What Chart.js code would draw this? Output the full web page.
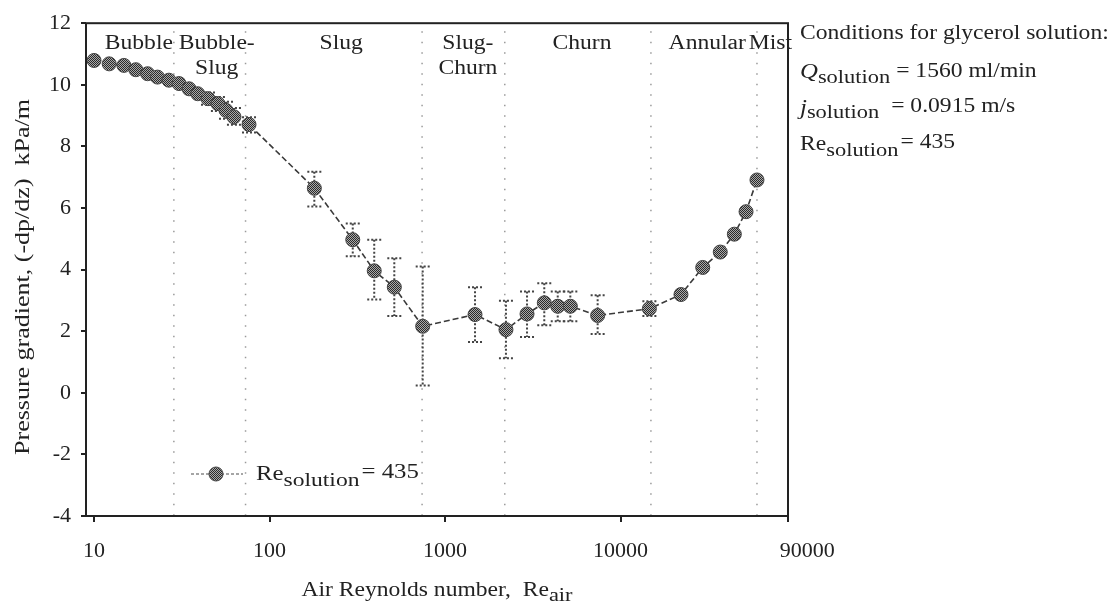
<!DOCTYPE html>
<html>
<head>
<meta charset="utf-8">
<script src="https://cdn.jsdelivr.net/npm/chart.js@4.4.1/dist/chart.umd.min.js"></script>
<style>
html, body { margin:0; padding:0; background:#fff; }
#wrap { width:1112px; height:610px; position:relative; }
</style>
</head>
<body>
<div id="wrap"><canvas id="dp-chart" width="1112" height="610"></canvas></div>
<script>
//Pressure gradient vs air Reynolds number (glycerol solution)

var reAir = [10, 12.2, 14.8, 17.3, 20.2, 23, 26.7, 30.5, 34.8, 39, 44.6, 50.8, 56.5, 62.7, 76.4,
	180, 298, 395, 514, 746, 1482, 2224, 2932, 3677, 4387, 5175, 7406, 14600,
	22100, 29400, 37000, 44500, 51900, 59900];
var dpdz = [10.79, 10.68, 10.63, 10.49, 10.36, 10.25, 10.15, 10.04, 9.87, 9.71, 9.55, 9.39, 9.17, 8.96, 8.71,
	6.64, 4.97, 3.96, 3.43, 2.16, 2.54, 2.05, 2.56, 2.92, 2.81, 2.81, 2.51, 2.73,
	3.19, 4.07, 4.57, 5.15, 5.88, 6.91];
// error bar ends (null = no bar)
var errHi = [null, null, null, null, null, null, null, null, null, null, 9.75, 9.6, 9.45, 9.25, 8.95,
	7.18, 5.5, 4.97, 4.37, 4.1, 3.43, 2.99, 3.29, 3.56, 3.29, 3.29, 3.17, 2.97,
	null, null, null, null, null, null];
var errLo = [null, null, null, null, null, null, null, null, null, null, 9.35, 9.15, 8.9, 8.7, 8.45,
	6.05, 4.43, 3.03, 2.49, 0.24, 1.65, 1.12, 1.81, 2.19, 2.32, 2.32, 1.91, 2.49,
	null, null, null, null, null, null];

var xTicks = [10, 100, 1000, 10000, 90000];
var yTicks = [-4, -2, 0, 2, 4, 6, 8, 10, 12];

// flow regime boundaries (air Re)
var regimeBounds = [28.5, 73, 740, 2190, 14900, 59900];
var regimeLabels = ['Bubble', 'Bubble-', 'Slug', 'Slug', 'Slug-', 'Churn', 'Churn', 'Annular', 'Mist'];
var regimeLabelX = [18, 50, 50, 256, 1350, 1350, 6030, 31200, 71500];
var regimeLabelRow = [0, 0, 1, 0, 0, 1, 0, 0, 0];

var serif = "'Liberation Serif', 'Times New Roman', serif";
var ink = '#222';
var SX = 1.18; // the scan is a bit stretched sideways

// checkered marker fill, like the scanned hatched markers
var patCanvas = document.createElement('canvas');
patCanvas.width = 2; patCanvas.height = 2;
var pctx = patCanvas.getContext('2d');
pctx.fillStyle = '#aaa'; pctx.fillRect(0, 0, 2, 2);
pctx.fillStyle = '#2a2a2a'; pctx.fillRect(0, 0, 1, 1); pctx.fillRect(1, 1, 1, 1);
var markerFill = pctx.createPattern(patCanvas, 'repeat');

// draw a run of text pieces (for subscripts), stretched by sx
function drawParts(ctx, x, y, parts, sx) {
	sx = sx || SX;
	parts.forEach(function(p){
		ctx.font = p.font;
		ctx.save();
		ctx.translate(x, y + (p.dy || 0));
		ctx.scale(sx, 1);
		ctx.fillText(p.t, 0, 0);
		ctx.restore();
		x += ctx.measureText(p.t).width * sx;
	});
	return x;
}
function partsWidth(ctx, parts, sx) {
	var w = 0;
	parts.forEach(function(p){ ctx.font = p.font; w += ctx.measureText(p.t).width; });
	return w * (sx || SX);
}

var regimePlugin = {
	id: 'regimes',
	beforeDatasetsDraw: function(chart) {
		var ctx = chart.ctx, a = chart.chartArea, xs = chart.scales.x, ys = chart.scales.y;
		ctx.save();
		// dotted regime boundaries
		ctx.strokeStyle = '#9a9a9a';
		ctx.lineWidth = 1.5;
		ctx.setLineDash([1.5, 9]);
		regimeBounds.forEach(function(v){
			var px = xs.getPixelForValue(v);
			ctx.beginPath(); ctx.moveTo(px, a.top + 8); ctx.lineTo(px, a.bottom); ctx.stroke();
		});
		// error bars
		ctx.strokeStyle = '#444';
		ctx.lineWidth = 2;
		ctx.setLineDash([2, 2]);
		for (var i = 0; i < reAir.length; i++) {
			if (errHi[i] === null) continue;
			var px = xs.getPixelForValue(reAir[i]);
			var top = ys.getPixelForValue(errHi[i]), bot = ys.getPixelForValue(errLo[i]);
			ctx.beginPath();
			ctx.moveTo(px, top); ctx.lineTo(px, bot);
			ctx.moveTo(px - 7, top); ctx.lineTo(px + 7, top);
			ctx.moveTo(px - 7, bot); ctx.lineTo(px + 7, bot);
			ctx.stroke();
		}
		ctx.restore();
	},
	afterDraw: function(chart) {
		var ctx = chart.ctx, a = chart.chartArea, xs = chart.scales.x;
		ctx.save();
		// frame
		ctx.strokeStyle = ink;
		ctx.lineWidth = 2;
		ctx.strokeRect(a.left, a.top, a.right - a.left, a.bottom - a.top);

		ctx.fillStyle = ink;
		ctx.textBaseline = 'alphabetic';
		ctx.textAlign = 'left';
		var f = '20px ' + serif, fs = '19px ' + serif, fi = 'italic 21px ' + serif, fe = '20px ' + serif;

		// regime names
		regimeLabels.forEach(function(t, i){
			var p = [{t: t, font: f}];
			var w = partsWidth(ctx, p);
			drawParts(ctx, xs.getPixelForValue(regimeLabelX[i]) - w / 2, a.top + 26 + regimeLabelRow[i] * 25, p);
		});

		// conditions box
		var cx = a.right + 12;
		drawParts(ctx, cx, 39, [{t: 'Conditions for glycerol solution:', font: f}]);
		var qx = drawParts(ctx, cx, 78, [{t: 'Q', font: fi}, {t: 'solution', font: fs, dy: 5}]);
		drawParts(ctx, qx + 6, 77, [{t: '= 1560 ml/min', font: fe}]);
		var jx = drawParts(ctx, cx, 114, [{t: 'j', font: fi}, {t: 'solution', font: fs, dy: 4}]);
		drawParts(ctx, jx + 12, 112, [{t: '= 0.0915 m/s', font: fe}]);
		var rx = drawParts(ctx, cx, 150, [{t: 'Re', font: f}, {t: 'solution', font: fs, dy: 6}]);
		drawParts(ctx, rx + 2, 148, [{t: '= 435', font: fe}]);

		// legend inside plot
		var ly = a.bottom - 42, lx = a.left + 105;
		ctx.strokeStyle = '#888';
		ctx.lineWidth = 1.5;
		ctx.setLineDash([3, 2]);
		ctx.beginPath(); ctx.moveTo(lx, ly); ctx.lineTo(lx + 52, ly); ctx.stroke();
		ctx.setLineDash([]);
		ctx.beginPath(); ctx.arc(lx + 25, ly, 7, 0, Math.PI * 2);
		ctx.fillStyle = markerFill; ctx.fill();
		ctx.strokeStyle = '#444'; ctx.lineWidth = 1; ctx.stroke();
		ctx.fillStyle = ink;
		var gx = drawParts(ctx, lx + 65, ly + 6, [{t: 'Re', font: f}, {t: 'solution', font: fs, dy: 6}], 1.24);
		drawParts(ctx, gx + 2, ly + 4, [{t: '= 435', font: fe}], 1.24);

		// x axis title
		var xt = [{t: 'Air Reynolds number,  Re', font: f}, {t: 'air', font: fs, dy: 5}];
		var w = partsWidth(ctx, xt);
		drawParts(ctx, (a.left + a.right) / 2 - w / 2, 596, xt);

		// y axis title, rotated
		ctx.translate(29, 277);
		ctx.rotate(-Math.PI / 2);
		var yt = [{t: 'Pressure gradient, (-dp/dz)  kPa/m', font: f}];
		var yw = partsWidth(ctx, yt, 1.3);
		drawParts(ctx, -yw / 2, 0, yt, 1.3);
		ctx.restore();
	}
};

window.addEventListener('load', function(){
	var ctx = document.getElementById('dp-chart').getContext('2d');
	var dpChart = new Chart(ctx, {
		type: 'line',
		data: {
			datasets: [{
				label: 'Re solution = 435',
				data: reAir.map(function(v, i){ return {x: v, y: dpdz[i]}; }),
				borderColor: '#3a3a3a',
				borderWidth: 1.6,
				borderDash: [6, 3],
				pointStyle: 'circle',
				pointRadius: 7,
				pointBackgroundColor: markerFill,
				pointBorderColor: '#444',
				pointBorderWidth: 1,
				tension: 0,
			}]
		},
		options: {
			responsive: false,
			animation: false,
			layout: {
				padding: {left: 0, top: 21, right: 324, bottom: 0}
			},
			plugins: {
				legend: {display: false},
				tooltip: {enabled: false},
			},
			scales: {
				x: {
					type: 'logarithmic',
					min: 9,
					max: 90000,
					afterBuildTicks: function(axis){
						axis.ticks = xTicks.map(function(v){ return {value: v}; });
					},
					afterFit: function(axis){ axis.height = 94; },
					border: {display: false},
					grid: {display: true, drawOnChartArea: false, drawTicks: true, tickLength: 6, color: ink, lineWidth: 2},
					ticks: {
						autoSkip: false,
						maxRotation: 0,
						padding: 16,
						color: ink,
						font: {family: serif, size: 22},
						// last label sits right of the corner in the original
						callback: function(v){ return v === 90000 ? '       90000' : String(v); }
					}
				},
				y: {
					min: -4,
					max: 12,
					afterBuildTicks: function(axis){
						axis.ticks = yTicks.map(function(v){ return {value: v}; });
					},
					afterFit: function(axis){ axis.width = 86; },
					border: {display: false},
					grid: {display: true, drawOnChartArea: false, drawTicks: true, tickLength: 5, color: ink, lineWidth: 2},
					ticks: {
						padding: 10,
						color: ink,
						font: {family: serif, size: 22}
					}
				}
			}
		},
		plugins: [regimePlugin]
	});
});
</script>
</body>
</html>
